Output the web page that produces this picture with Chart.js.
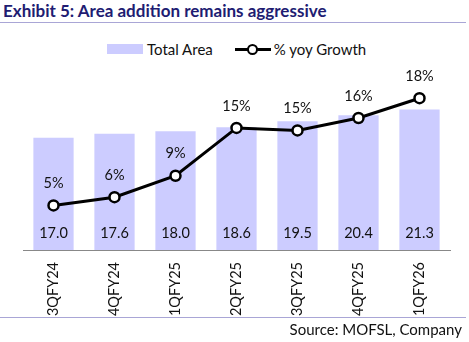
<!DOCTYPE html>
<html>
<head>
<meta charset="utf-8">
<script src="https://cdn.jsdelivr.net/npm/chart.js@4.4.1/dist/chart.umd.min.js"></script>
<style>
  body { margin: 0; background: #fff; font-family: Lato, 'Open Sans', sans-serif; }
  #wrap { position: relative; width: 469px; height: 342px; overflow: hidden; }
  #title { position: absolute; left: 3px; top: 0px; font-size: 17px; font-weight: bold; color: #211C72; white-space: nowrap; }
  #rule1 { position: absolute; left: 0; top: 22px; width: 466px; height: 1px; background: #A9A6D6; }
  #rule2 { position: absolute; left: 0; top: 317px; width: 466px; height: 1px; background: #A9A6D6; }
  #source { position: absolute; right: 7px; top: 320px; font-size: 15px; color: #111; }
  #legend { position: absolute; top: 40px; left: 107px; font-size: 15px; color: #111; display: flex; align-items: center; }
  .sw { display: inline-block; width: 36px; height: 10px; background: #CCCCFF; margin-right: 4px; }
  .ln { display: inline-block; position: relative; width: 36px; height: 12px; margin: 0 3px 0 22px; }
  .ln:before { content: ''; position: absolute; left: 0; right: 0; top: 5px; height: 3px; background: #000; }
  .ln:after { content: ''; position: absolute; left: 12px; top: 1px; width: 7px; height: 7px; border: 2.5px solid #000; border-radius: 50%; background: #fff; }
  canvas { position: absolute; left: 0; top: 0; }
</style>
</head>
<body>
<div id="wrap">
  <div id="title">Exhibit 5: Area addition remains aggressive</div>
  <div id="rule1"></div>
  <div id="legend"><span class="sw"></span>Total Area<span class="ln"></span>% yoy Growth</div>
  <canvas id="chart" width="469" height="342"></canvas>
  <div id="rule2"></div>
  <div id="source">Source: MOFSL, Company</div>
</div>
<script>
const quarters = ['3QFY24', '4QFY24', '1QFY25', '2QFY25', '3QFY25', '4QFY25', '1QFY26'];
const totalArea = [17.0, 17.6, 18.0, 18.6, 19.5, 20.4, 21.3];
const yoyGrowth = [5.4, 6.4, 9.0, 14.8, 14.5, 16.0, 18.4];

const FONT = 'Lato, "Open Sans", sans-serif';

// value labels + rotated category labels
const labelPlugin = {
  id: 'valueLabels',
  afterDatasetsDraw(chart) {
    const ctx = chart.ctx;
    const base = chart.chartArea.bottom;
    ctx.save();
    ctx.font = '14.5px ' + FONT;
    ctx.fillStyle = '#111';
    ctx.textAlign = 'center';
    ctx.textBaseline = 'middle';
    chart.getDatasetMeta(1).data.forEach((bar, i) => {
      ctx.fillText(totalArea[i].toFixed(1), bar.x, base - 17);
    });
    chart.getDatasetMeta(0).data.forEach((pt, i) => {
      ctx.fillText(Math.round(yoyGrowth[i]) + '%', pt.x, pt.y - 22);
    });
    ctx.textAlign = 'right';
    chart.getDatasetMeta(1).data.forEach((bar, i) => {
      ctx.save();
      ctx.translate(bar.x, base + 12);
      ctx.rotate(-Math.PI / 2);
      ctx.fillText(quarters[i], 0, 0);
      ctx.restore();
    });
    ctx.restore();
  }
};

new Chart(document.getElementById('chart'), {
  data: {
    labels: quarters,
    datasets: [
      { type: 'line', label: '% yoy Growth', data: yoyGrowth, yAxisID: 'y1',
        borderColor: '#000', borderWidth: 3, pointRadius: 5, pointBorderWidth: 2.5,
        pointBackgroundColor: '#fff', pointBorderColor: '#000', tension: 0, order: 0 },
      { type: 'bar', label: 'Total Area', data: totalArea, yAxisID: 'y',
        backgroundColor: '#CCCCFF', categoryPercentage: 1, barPercentage: 0.66, order: 1 }
    ]
  },
  options: {
    responsive: false,
    animation: false,
    layout: { padding: { left: 23, right: 19, top: 85, bottom: 84 } },
    plugins: { legend: { display: false }, tooltip: { enabled: false } },
    scales: {
      x: {
        grid: { display: false },
        border: { display: true, color: '#888', width: 1 },
        ticks: { display: false }
      },
      y: { display: false, min: 0, max: 25 },
      y1: { display: false, min: 0, max: 20 }
    }
  },
  plugins: [labelPlugin]
});
</script>
</body>
</html>
